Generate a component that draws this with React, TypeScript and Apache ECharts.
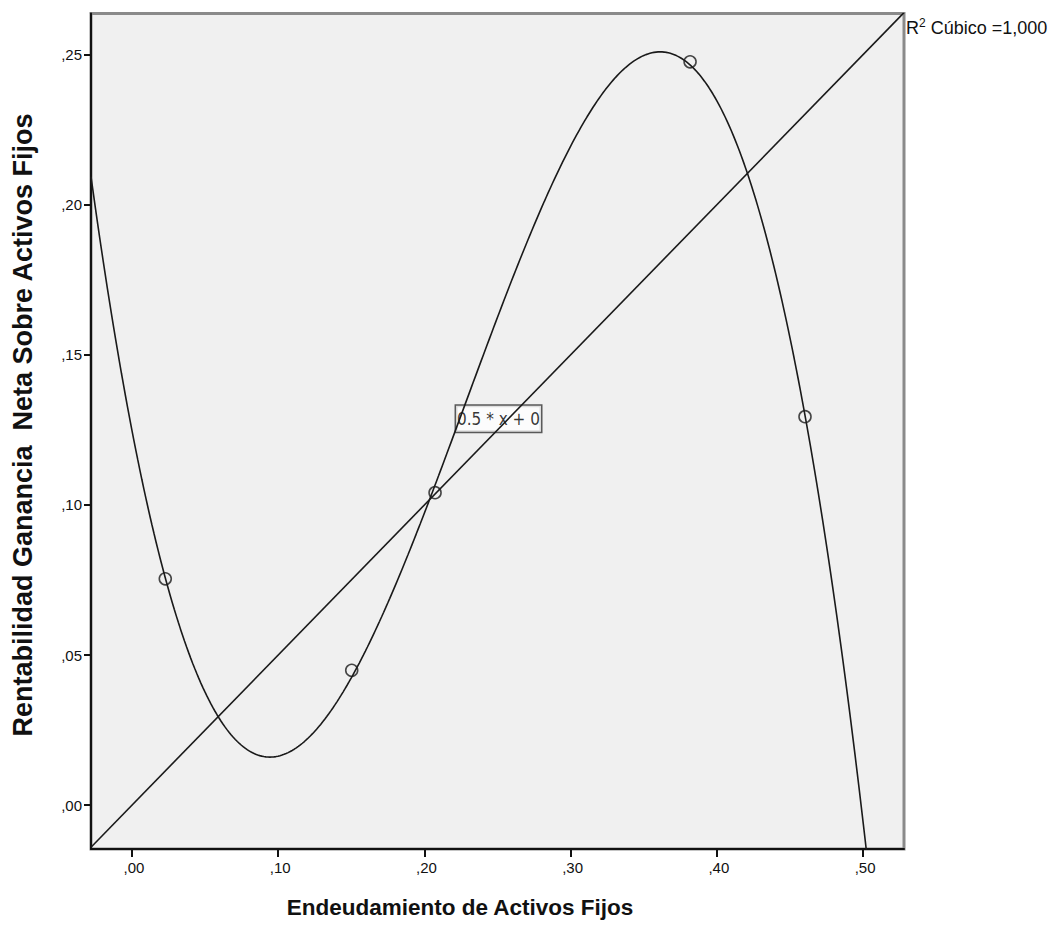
import React, { useEffect, useRef } from "react";
import * as echarts from "echarts";

// Observed cases
const endeudamiento = [0.0228, 0.1503, 0.2073, 0.3817, 0.4603];
const rentabilidad = [0.0754, 0.0449, 0.1041, 0.2476, 0.1294];

// Axis ranges and tick positions
const xRange = [-0.028, 0.528];
const yRange = [-0.0146, 0.2637];
const xTicks = [0, 0.1, 0.2, 0.3, 0.4, 0.5];
const yTicks = [0, 0.05, 0.1, 0.15, 0.2, 0.25];

// Reference line y = slope * x + intercept
const refSlope = 0.5;
const refIntercept = 0;
const refLabel = "0.5 * x + 0";
const refLabelAt = [0.2507, 0.1287];

const xTitle = "Endeudamiento de Activos Fijos";
const yTitle = "Rentabilidad Ganancia  Neta Sobre Activos Fijos";
const fitLabel = "Cúbico =1,000";

// Least-squares cubic fit of y on x
function cubicFit(xs: number[], ys: number[]): number[] {
  const n = 4;
  const A: number[][] = [];
  for (let r = 0; r < n; r++) {
    const row: number[] = [];
    for (let c = 0; c < n; c++) {
      let s = 0;
      for (let i = 0; i < xs.length; i++) s += Math.pow(xs[i], r + c);
      row.push(s);
    }
    let b = 0;
    for (let i = 0; i < xs.length; i++) b += ys[i] * Math.pow(xs[i], r);
    row.push(b);
    A.push(row);
  }
  for (let col = 0; col < n; col++) {
    let piv = col;
    for (let r = col + 1; r < n; r++) if (Math.abs(A[r][col]) > Math.abs(A[piv][col])) piv = r;
    [A[col], A[piv]] = [A[piv], A[col]];
    for (let r = 0; r < n; r++) {
      if (r === col) continue;
      const f = A[r][col] / A[col][col];
      for (let c = col; c <= n; c++) A[r][c] -= f * A[col][c];
    }
  }
  return A.map((row, i) => row[n] / row[i]);
}

const fmt = (v: number) => v.toFixed(2).replace(/^0\./, ",");

export default function App() {
  const ref = useRef<HTMLDivElement>(null);

  useEffect(() => {
    if (!ref.current) return;
    const chart = echarts.init(ref.current, null, { renderer: "svg" });

    const coef = cubicFit(endeudamiento, rentabilidad);
    const steps = 400;
    const curve: number[][] = [];
    for (let i = 0; i <= steps; i++) {
      const x = xRange[0] + ((xRange[1] - xRange[0]) * i) / steps;
      const y = coef[0] + coef[1] * x + coef[2] * x * x + coef[3] * x * x * x;
      curve.push([x, y]);
    }
    const refLine = xRange.map((x) => [x, refSlope * x + refIntercept]);

    const font = "'Liberation Sans', Arial, sans-serif";
    const ink = "#111";

    chart.setOption({
      animation: false,
      backgroundColor: "#ffffff",
      grid: {
        left: 91,
        right: 152,
        top: 13.5,
        bottom: 85,
        show: true,
        backgroundColor: "#f0f0f0",
        borderColor: "#8a8a8a",
        borderWidth: 3,
      },
      xAxis: {
        type: "value",
        min: xRange[0],
        max: xRange[1],
        splitLine: { show: false },
        axisLine: { show: true, onZero: false, lineStyle: { color: ink, width: 2 } },
        axisTick: { show: true, length: 8, customValues: xTicks, lineStyle: { color: ink, width: 2 } },
        axisLabel: {
          customValues: xTicks,
          formatter: fmt,
          color: ink,
          fontSize: 15,
          fontFamily: font,
          margin: 11,
          padding: [0, 0, 0, 4],
        },
      },
      yAxis: {
        type: "value",
        min: yRange[0],
        max: yRange[1],
        splitLine: { show: false },
        axisLine: { show: true, onZero: false, lineStyle: { color: ink, width: 2 } },
        axisTick: { show: true, length: 7, customValues: yTicks, lineStyle: { color: ink, width: 2 } },
        axisLabel: {
          customValues: yTicks,
          formatter: fmt,
          color: ink,
          fontSize: 15,
          fontFamily: font,
          margin: 9,
        },
      },
      series: [
        {
          type: "line",
          data: refLine,
          symbol: "none",
          lineStyle: { color: "#1a1a1a", width: 1.6 },
          silent: true,
        },
        {
          type: "line",
          data: curve,
          symbol: "none",
          lineStyle: { color: "#1a1a1a", width: 1.6 },
          silent: true,
        },
        {
          type: "scatter",
          data: endeudamiento.map((x, i) => [x, rentabilidad[i]]),
          symbol: "circle",
          symbolSize: 12,
          itemStyle: { color: "rgba(0,0,0,0)", borderColor: "#1a1a1a", borderWidth: 1.6 },
        },
        {
          type: "scatter",
          data: [refLabelAt],
          symbolSize: 0,
          silent: true,
          label: {
            show: true,
            position: "inside",
            formatter: refLabel,
            fontSize: 17,
            lineHeight: 19,
            fontFamily: "'DejaVu Sans Condensed', 'Liberation Sans Narrow', sans-serif",
            color: "#000",
            backgroundColor: "#ffffff",
            borderColor: "#333",
            borderWidth: 1.5,
            padding: [4, 1, 3, 1],
          },
        },
      ],
      graphic: [
        {
          type: "text",
          left: 906,
          top: 17,
          style: {
            text: "{r|R}{s|2}{r| " + fitLabel + "}",
            rich: {
              r: { fontSize: 18, fontFamily: font, fill: ink, verticalAlign: "bottom" },
              s: { fontSize: 12, fontFamily: font, fill: ink, verticalAlign: "top", padding: [0, 0, 8, 0] },
            },
          },
        },
        {
          type: "text",
          x: 460,
          y: 907,
          style: {
            text: xTitle,
            fontSize: 22.5,
            fontWeight: "bold",
            fontFamily: font,
            fill: ink,
            align: "center",
            verticalAlign: "middle",
          },
        },
        {
          type: "text",
          x: 23,
          y: 425,
          rotation: Math.PI / 2,
          style: {
            text: yTitle,
            fontSize: 27,
            fontWeight: "bold",
            fontFamily: font,
            fill: ink,
            align: "center",
            verticalAlign: "middle",
          },
        },
      ],
    });

    return () => chart.dispose();
  }, []);

  return (
    <div
      ref={ref}
      style={{ position: "fixed", left: 0, top: 0, width: 1056, height: 934, background: "#fff" }}
    />
  );
}
